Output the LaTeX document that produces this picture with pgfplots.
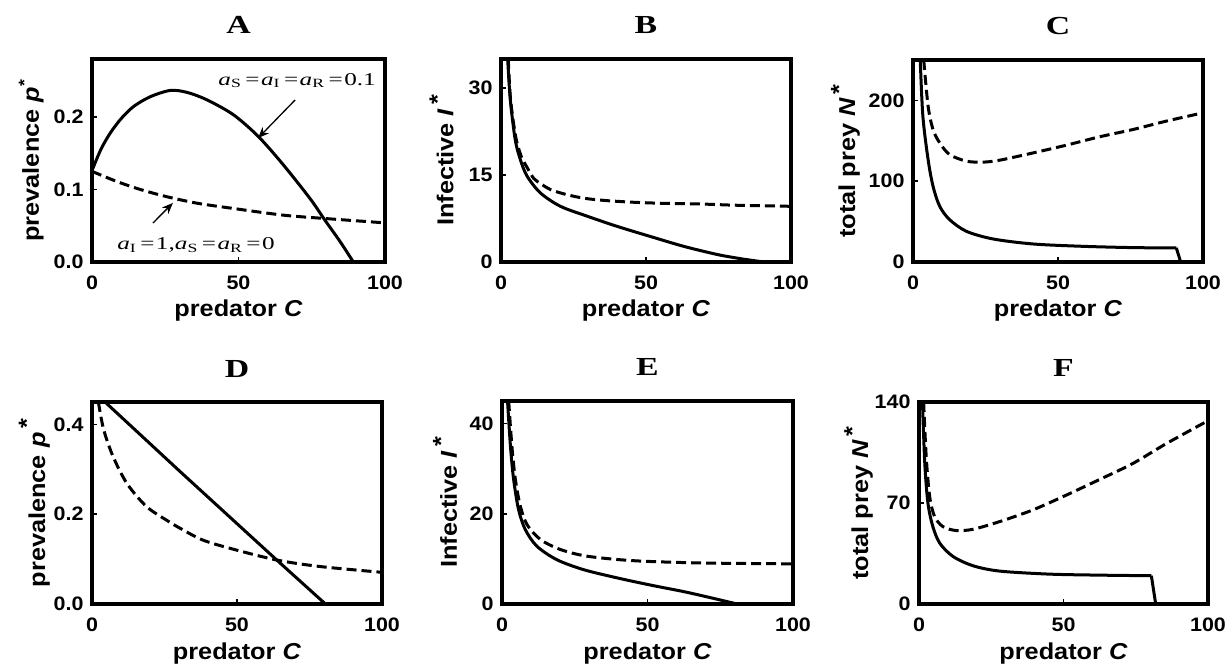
\documentclass[border=0pt]{standalone}
\usepackage{fontspec}
\setmainfont{Liberation Sans}[FakeStretch=1.1]
\newfontfamily\titlefont{Liberation Serif}[FakeStretch=1.3]
\newfontfamily\annfont{Liberation Serif}[FakeStretch=1.4]
\usepackage{pgfplots}
\pgfplotsset{compat=1.18}
\usetikzlibrary{arrows.meta}

\newcommand{\eq}{\kern4pt=\kern1.5pt}

\pgfplotsset{
  panel/.style={
    scale only axis,
    xmin=0, xmax=100, xtick={0,50,100}, ymin=0,
    tick align=inside, tick pos=left,
    major tick length=5pt,
    every tick/.style={line width=1.5pt, black},
    axis line style={line width=3.5pt},
    tick label style={font=\fontsize{19.5}{19.5}\selectfont\bfseries},
    /pgf/number format/assume math mode=true,
    scaled ticks=false,
    xticklabel style={yshift=-10pt},
    yticklabel style={xshift=-5pt},
    xlabel={predator \textit{C}},
    label style={font=\fontsize{23}{23}\selectfont\bfseries},
    xlabel style={at={(axis description cs:0.5,0)}, anchor=base, yshift=-55pt},
    title style={font=\titlefont\fontsize{26}{26}\selectfont\bfseries,
      at={(axis description cs:0.5,1)}, anchor=base, yshift=19pt},
  },
  onedec/.style={yticklabel style={/pgf/number format/.cd, fixed, fixed zerofill, precision=1}},
  solidc/.style={black, line width=3pt, smooth, no marks},
  dashc/.style={black, line width=3pt, smooth, no marks, dash pattern=on 10pt off 5pt},
}

\begin{document}
\begin{tikzpicture}
\path[use as bounding box] (0pt,0pt) rectangle (1227pt,667pt);

% ---------- A ----------
\begin{axis}[panel, onedec, at={(92pt,405pt)}, anchor=south west,
  width=293pt, height=203pt, ymax=0.28, ytick={0,0.1,0.2},
  title={A}, ylabel={prevalence \textit{p}\textsuperscript{*}},
  ylabel style={at={(axis description cs:-0.181,0.5)}, anchor=base}]
  \addplot[solidc] coordinates {
    (0,0.126) (3,0.155) (6.25,0.178) (10,0.198) (14.2,0.2145) (19.9,0.228) (26.7,0.2366)
    (32.4,0.234) (39.2,0.2237) (48.3,0.203) (56.8,0.173) (65.3,0.134)
    (74.4,0.0876) (79.5,0.0577) (84.7,0.028) (89.2,0)
  };
  \addplot[dashc] coordinates {
    (0,0.125) (8.5,0.111) (16.5,0.100) (25.6,0.090) (36,0.081)
    (48.3,0.0738) (65.3,0.0646) (79.5,0.060) (99.9,0.054)
  };
  \draw[-{Stealth[length=11pt,width=9pt]}, line width=1.3pt]
    (axis cs:69.3,0.2234) -- (axis cs:56.7,0.171);
  \draw[-{Stealth[length=11pt,width=9pt]}, line width=1.3pt]
    (axis cs:20.8,0.0538) -- (axis cs:27.6,0.0814);
  \node[anchor=base, font=\annfont\fontsize{18}{18}\selectfont] at (axis cs:70,0.244)
    {\textit{a}\textsubscript{S}\eq\textit{a}\textsubscript{I}\eq\textit{a}\textsubscript{R}\eq0.1};
  \node[anchor=base, font=\annfont\fontsize{18}{18}\selectfont] at (axis cs:35.5,0.0166)
    {\textit{a}\textsubscript{I}\eq1,\textit{a}\textsubscript{S}\eq\textit{a}\textsubscript{R}\eq0};
\end{axis}

% ---------- B ----------
\begin{axis}[panel, at={(501pt,405pt)}, anchor=south west,
  width=290pt, height=203pt, ymax=35, ytick={0,15,30},
  title={B}, ylabel={Infective \textit{I}\,\raisebox{0.35em}{*}},
  ylabel style={at={(axis description cs:-0.164,0.5)}, anchor=base}]
  \addplot[solidc] coordinates {
    (2.3,35) (3.2,28.0) (4.9,21.1) (6.7,17.6) (9.0,14.8) (13.6,11.9)
    (20.5,9.6) (29.7,7.9) (40,6.15) (51.5,4.4) (63,2.7) (74.5,1.3) (82,0.62) (87,0.25) (90.8,0)
  };
  \addplot[dashc] coordinates {
    (2.5,35) (3.3,28) (5.1,21.5) (7,18.2) (9,16.3) (11.3,14.4) (14,13.4)
    (17,12.5) (22,11.7) (28.5,11.0) (36,10.6) (45.7,10.3) (57,10.1)
    (68.7,10.0) (80,9.8) (90,9.7) (100,9.6)
  };
\end{axis}

% ---------- C ----------
\begin{axis}[panel, at={(913pt,405pt)}, anchor=south west,
  width=290pt, height=202pt, ymax=250, ytick={0,100,200},
  title={C}, ylabel={total prey \textit{N}\,\raisebox{0.35em}{*}},
  ylabel style={at={(axis description cs:-0.2,0.5)}, anchor=base}]
  \addplot[solidc] coordinates {
    (2.5,250) (3.4,180.6) (5.2,126.9) (6.9,93.8) (9.2,69) (12.6,52.5)
    (18.4,38) (27.6,28.5) (41.4,22.3) (58.6,19.4) (75.9,17.8) (90.8,17.4)
  };
  \addplot[black, line width=3pt, no marks] coordinates {(90.8,17.4) (92.3,0)};
  \addplot[dashc] coordinates {
    (3.7,250) (5.2,193) (6.9,164) (9.2,147.5) (12.6,133) (18.4,124.8)
    (24.1,123.6) (29.9,126) (41.4,135) (52.9,144.6) (64.4,155) (75.9,164)
    (87.4,174.4) (99.9,184.5)
  };
\end{axis}

% ---------- D ----------
\begin{axis}[panel, onedec, at={(92pt,63pt)}, anchor=south west,
  width=290pt, height=202pt, ymax=0.45, ytick={0,0.2,0.4},
  title={D}, ylabel={prevalence \textit{p}\,\raisebox{0.45em}{*}},
  ylabel style={at={(axis description cs:-0.162,0.5)}, anchor=base}]
  \addplot[black, line width=3pt, no marks] coordinates {
    (4.5,0.45) (30.3,0.2955) (63.7,0.098) (80.5,0)
  };
  \addplot[dashc] coordinates {
    (2.2,0.45) (4,0.389) (7.3,0.328) (12.1,0.268) (18.8,0.217)
    (25.9,0.186) (30.3,0.169) (38,0.143) (47.6,0.124) (63.7,0.098) (78.6,0.0835)
    (99.9,0.0706)
  };
\end{axis}

% ---------- E ----------
\begin{axis}[panel, at={(502pt,63pt)}, anchor=south west,
  width=291pt, height=203pt, ymax=45, ytick={0,20,40},
  title={E}, ylabel={Infective \textit{I}\,\raisebox{0.35em}{*}},
  ylabel style={at={(axis description cs:-0.155,0.5)}, anchor=base}]
  \addplot[solidc] coordinates {
    (1.9,45) (2.9,35) (4,27.6) (5.7,20.9) (8,16.5) (12,12.8) (18.9,9.8)
    (28.1,7.6) (39.5,5.8) (51,4.2) (62.4,2.75) (71,1.5) (80.8,0)
  };
  \addplot[dashc] coordinates {
    (2.3,45) (3.4,35) (4.6,27.6) (6.3,21.7) (8.6,17.6) (13.2,14.3)
    (20,12.1) (29.2,10.6) (45.2,9.6) (68.2,9.1) (99.9,8.9)
  };
\end{axis}

% ---------- F ----------
\begin{axis}[panel, at={(919pt,63pt)}, anchor=south west,
  width=289pt, height=202pt, ymax=140, ytick={0,70,140},
  title={F}, ylabel={total prey \textit{N}\,\raisebox{0.35em}{*}},
  ylabel style={at={(axis description cs:-0.176,0.5)}, anchor=base}]
  \addplot[solidc] coordinates {
    (1.2,140) (2,97.4) (3.1,69.8) (4.8,53.6) (7.2,42.1) (11.8,32.9)
    (18.7,26.5) (27.9,22.8) (45.2,20.7) (62.5,20) (80.4,19.6)
  };
  \addplot[black, line width=3pt, no marks] coordinates {(80.4,19.6) (81.9,0)};
  \addplot[dashc] coordinates {
    (1.6,140) (2.5,102) (3.7,74.4) (5.4,60.6) (8.3,53.6) (12.9,50.9)
    (18.7,51.8) (27.9,57.1) (39.4,65.2) (51,75.5) (62.5,86.3) (74,97.4)
    (85.6,111.2) (99.9,126.9)
  };
\end{axis}
\end{tikzpicture}
\end{document}
